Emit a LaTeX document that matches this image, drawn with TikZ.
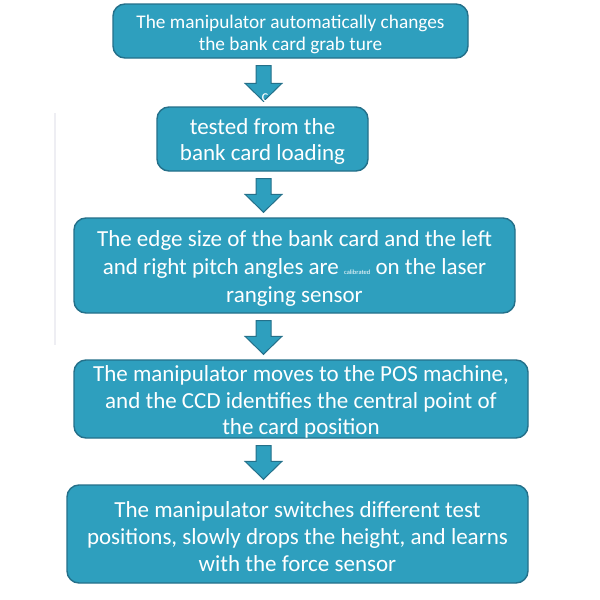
\documentclass[tikz,border=0pt]{standalone}
\usepackage{fontspec}
\setmainfont{Carlito}
\usetikzlibrary{calc}
\definecolor{boxfill}{RGB}{46,159,190}
\definecolor{boxedge}{RGB}{36,112,138}
\definecolor{faint}{RGB}{238,238,243}
\tikzset{x=1pt,y=-1pt,
 card/.style={draw=boxedge, line width=1.4pt, fill=boxfill, rounded corners=12pt,
   inner sep=0pt},
 cardtext/.style={text=white, align=center, inner sep=0pt},
 barrow/.style={draw=boxedge, fill=boxfill, line width=1pt, line join=miter}}
\newcommand\blockarrow[2]{%
  \draw[barrow] let \p1=(#1.south), \p2=(#2.north) in
    ({256pt},{\y1-7pt}) -- ({271pt},{\y1-7pt}) -- ({271pt},{\y2+23pt}) --
    ({282pt},{\y2+23pt}) -- ({263.5pt},{\y2+5pt}) -- ({245pt},{\y2+23pt}) --
    ({256pt},{\y2+23pt}) -- cycle;}
\begin{document}
\begin{tikzpicture}
\useasboundingbox[fill=white] (0,0) rectangle (600,600);
\draw[faint, line width=1.2pt] (55,113) -- (55,345);
\node[card, minimum width=355pt, minimum height=54pt] (b1) at (290.5,31) {};
\node[cardtext, font={\fontsize{19.3}{22}\selectfont}] (t1) at ($(b1.center)+(0,3)$)
  {The manipulator automatically changes\\the bank card grab ture};
\node[card, minimum width=211pt, minimum height=64pt] (b2) at (262.5,139) {};
\node[cardtext, font={\fontsize{23}{26}\selectfont}] (t2) at ($(b2.center)+(0,2.5)$)
  {tested from the\\bank card loading};
\node[card, minimum width=441pt, minimum height=95pt] (b3) at (294.5,265.5) {};
\node[cardtext, font={\fontsize{23}{28}\selectfont}] (t3) at ($(b3.center)+(0,3)$)
  {The edge size of the bank card and the left\\and right pitch angles are {\fontsize{6.5}{6.5}\selectfont calibrated} on the laser\\ranging sensor};
\node[card, minimum width=454pt, minimum height=78pt] (b4) at (301,399) {};
\node[cardtext, font={\fontsize{23}{26.5}\selectfont}] (t4) at ($(b4.center)+(0,3)$)
  {The manipulator moves to the POS machine,\\and the CCD identifies the central point of\\the card position};
\node[card, minimum width=461pt, minimum height=98pt] (b5) at (297.5,534) {};
\node[cardtext, font={\fontsize{23}{27}\selectfont}] (t5) at ($(b5.center)+(0,3)$)
  {The manipulator switches different test\\positions, slowly drops the height, and learns\\with the force sensor};
\blockarrow{b1}{b2}
\blockarrow{b2}{b3}
\blockarrow{b3}{b4}
\blockarrow{b4}{b5}
\node[text=white, font={\fontsize{16}{16}\selectfont}, inner sep=0pt] (c) at (265,98) {c};
\end{tikzpicture}
\end{document}
